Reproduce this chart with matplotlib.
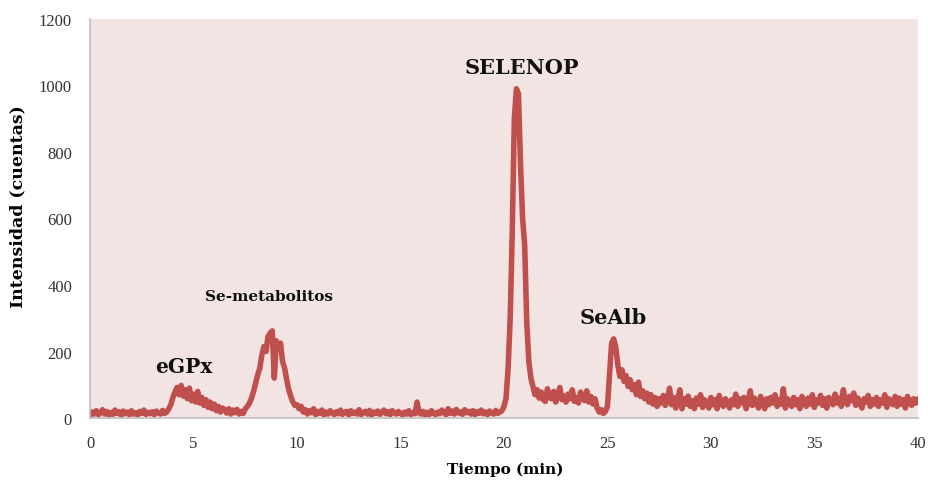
import matplotlib.pyplot as plt

# chromatogram, one row per minute (0.1 min steps)
tiempo = [
    0.0, 0.1, 0.2, 0.3, 0.4, 0.5, 0.6, 0.7, 0.8, 0.9,
    1.0, 1.1, 1.2, 1.3, 1.4, 1.5, 1.6, 1.7, 1.8, 1.9,
    2.0, 2.1, 2.2, 2.3, 2.4, 2.5, 2.6, 2.7, 2.8, 2.9,
    3.0, 3.1, 3.2, 3.3, 3.4, 3.5, 3.6, 3.7, 3.8, 3.9,
    4.0, 4.1, 4.2, 4.3, 4.4, 4.5, 4.6, 4.7, 4.8, 4.9,
    5.0, 5.1, 5.2, 5.3, 5.4, 5.5, 5.6, 5.7, 5.8, 5.9,
    6.0, 6.1, 6.2, 6.3, 6.4, 6.5, 6.6, 6.7, 6.8, 6.9,
    7.0, 7.1, 7.2, 7.3, 7.4, 7.5, 7.6, 7.7, 7.8, 7.9,
    8.0, 8.1, 8.2, 8.3, 8.4, 8.5, 8.6, 8.7, 8.8, 8.9,
    9.0, 9.1, 9.2, 9.3, 9.4, 9.5, 9.6, 9.7, 9.8, 9.9,
    10.0, 10.1, 10.2, 10.3, 10.4, 10.5, 10.6, 10.7, 10.8, 10.9,
    11.0, 11.1, 11.2, 11.3, 11.4, 11.5, 11.6, 11.7, 11.8, 11.9,
    12.0, 12.1, 12.2, 12.3, 12.4, 12.5, 12.6, 12.7, 12.8, 12.9,
    13.0, 13.1, 13.2, 13.3, 13.4, 13.5, 13.6, 13.7, 13.8, 13.9,
    14.0, 14.1, 14.2, 14.3, 14.4, 14.5, 14.6, 14.7, 14.8, 14.9,
    15.0, 15.1, 15.2, 15.3, 15.4, 15.5, 15.6, 15.7, 15.8, 15.9,
    16.0, 16.1, 16.2, 16.3, 16.4, 16.5, 16.6, 16.7, 16.8, 16.9,
    17.0, 17.1, 17.2, 17.3, 17.4, 17.5, 17.6, 17.7, 17.8, 17.9,
    18.0, 18.1, 18.2, 18.3, 18.4, 18.5, 18.6, 18.7, 18.8, 18.9,
    19.0, 19.1, 19.2, 19.3, 19.4, 19.5, 19.6, 19.7, 19.8, 19.9,
    20.0, 20.1, 20.2, 20.3, 20.4, 20.5, 20.6, 20.7, 20.8, 20.9,
    21.0, 21.1, 21.2, 21.3, 21.4, 21.5, 21.6, 21.7, 21.8, 21.9,
    22.0, 22.1, 22.2, 22.3, 22.4, 22.5, 22.6, 22.7, 22.8, 22.9,
    23.0, 23.1, 23.2, 23.3, 23.4, 23.5, 23.6, 23.7, 23.8, 23.9,
    24.0, 24.1, 24.2, 24.3, 24.4, 24.5, 24.6, 24.7, 24.8, 24.9,
    25.0, 25.1, 25.2, 25.3, 25.4, 25.5, 25.6, 25.7, 25.8, 25.9,
    26.0, 26.1, 26.2, 26.3, 26.4, 26.5, 26.6, 26.7, 26.8, 26.9,
    27.0, 27.1, 27.2, 27.3, 27.4, 27.5, 27.6, 27.7, 27.8, 27.9,
    28.0, 28.1, 28.2, 28.3, 28.4, 28.5, 28.6, 28.7, 28.8, 28.9,
    29.0, 29.1, 29.2, 29.3, 29.4, 29.5, 29.6, 29.7, 29.8, 29.9,
    30.0, 30.1, 30.2, 30.3, 30.4, 30.5, 30.6, 30.7, 30.8, 30.9,
    31.0, 31.1, 31.2, 31.3, 31.4, 31.5, 31.6, 31.7, 31.8, 31.9,
    32.0, 32.1, 32.2, 32.3, 32.4, 32.5, 32.6, 32.7, 32.8, 32.9,
    33.0, 33.1, 33.2, 33.3, 33.4, 33.5, 33.6, 33.7, 33.8, 33.9,
    34.0, 34.1, 34.2, 34.3, 34.4, 34.5, 34.6, 34.7, 34.8, 34.9,
    35.0, 35.1, 35.2, 35.3, 35.4, 35.5, 35.6, 35.7, 35.8, 35.9,
    36.0, 36.1, 36.2, 36.3, 36.4, 36.5, 36.6, 36.7, 36.8, 36.9,
    37.0, 37.1, 37.2, 37.3, 37.4, 37.5, 37.6, 37.7, 37.8, 37.9,
    38.0, 38.1, 38.2, 38.3, 38.4, 38.5, 38.6, 38.7, 38.8, 38.9,
    39.0, 39.1, 39.2, 39.3, 39.4, 39.5, 39.6, 39.7, 39.8, 39.9,
    40.0,
]
intensidad = [
    8, 18, 12, 22, 10, 16, 25, 12, 20, 9,
    17, 11, 24, 14, 19, 8, 21, 13, 18, 10,
    22, 12, 16, 9, 20, 14, 24, 11, 17, 13,
    19, 10, 21, 15, 12, 23, 14, 18, 28, 40,
    62, 78, 92, 70, 98, 66, 85, 58, 90, 52,
    72, 48, 80, 45, 62, 38, 55, 32, 48, 28,
    42, 22, 35, 18, 30, 25, 15, 28, 12, 24,
    16, 26, 12, 20, 14, 28, 35, 45, 60, 80,
    105, 130, 150, 190, 215, 200, 245, 255, 262, 120,
    232, 210, 225, 170, 150, 115, 85, 65, 48, 38,
    40, 28, 35, 18, 25, 12, 22, 16, 28, 10,
    20, 14, 24, 9, 18, 12, 22, 15, 10, 19,
    13, 24, 11, 17, 20, 9, 22, 14, 18, 12,
    25, 10, 16, 20, 12, 23, 9, 18, 14, 21,
    11, 17, 24, 13, 19, 10, 22, 15, 12, 20,
    14, 9, 18, 12, 22, 10, 16, 13, 48, 15,
    12, 20, 9, 17, 11, 22, 14, 10, 18, 13,
    24, 16, 10, 28, 14, 21, 12, 26, 15, 18,
    11, 25, 16, 20, 12, 22, 10, 19, 14, 24,
    13, 18, 10, 21, 15, 12, 23, 14, 18, 22,
    35, 60, 150, 300, 560, 900, 990, 975, 760, 600,
    520, 290, 170, 120, 95, 70, 85, 60, 78, 55,
    50, 88, 62, 58, 80, 48, 70, 92, 55, 66,
    48, 72, 58, 85, 50, 62, 45, 78, 60, 52,
    82, 48, 65, 42, 58, 30, 18, 25, 14, 20,
    35, 130, 225, 238, 215, 160, 125, 145, 110, 128,
    95, 115, 85, 100, 70, 108, 65, 82, 58, 75,
    48, 70, 42, 62, 35, 58, 45, 68, 38, 55,
    90, 40, 62, 30, 55, 85, 28, 58, 42, 66,
    35, 52, 28, 60, 42, 70, 32, 55, 45, 30,
    62, 40, 55, 28, 68, 45, 35, 58, 48, 30,
    55, 40, 72, 35, 58, 45, 62, 28, 50, 82,
    38, 60, 45, 30, 65, 50, 28, 58, 40, 62,
    45, 70, 35, 55, 42, 88, 30, 58, 48, 35,
    62, 40, 55, 28, 65, 48, 35, 60, 42, 70,
    32, 55, 45, 68, 38, 58, 30, 62, 50, 40,
    72, 45, 60, 35, 85, 50, 40, 65, 52, 75,
    38, 60, 45, 30, 58, 48, 68, 35, 55, 42,
    62, 35, 55, 45, 70, 32, 58, 48, 40, 65,
    35, 60, 42, 55, 30, 65, 48, 38, 58, 45,
    55,
]

etiquetas = ["eGPx", "Se-metabolitos", "SELENOP", "SeAlb"]
etiqueta_x = [4.54, 8.65, 20.87, 25.3]
etiqueta_y = [156, 367, 1056, 304]
etiqueta_tam = [14.5, 11, 15, 15]

line_color = "#C0504D"
bg_color = "#F3E4E4"
axis_color = "#BFBFBF"
label_font = ["DejaVu Serif"]

plt.rcParams["font.family"] = ["Liberation Serif", "DejaVu Serif"]

fig = plt.figure(figsize=(9.29, 4.85), dpi=100)
ax = fig.add_axes([0.097, 0.136, 0.891, 0.823])
ax.set_facecolor(bg_color)

ax.plot(tiempo, intensidad, color=line_color, lw=4.0, solid_joinstyle="round")

for txt, x, y, fs in zip(etiquetas, etiqueta_x, etiqueta_y, etiqueta_tam):
    ax.text(x, y, txt, ha="center", va="center", fontsize=fs,
            fontweight="bold", color="#111111", family=label_font)

ax.set_xlim(0, 40)
ax.set_ylim(0, 1200)
ax.set_xticks([0, 5, 10, 15, 20, 25, 30, 35, 40])
ax.set_yticks([0, 200, 400, 600, 800, 1000, 1200])
ax.tick_params(length=0, labelsize=12, colors="#333333")
ax.tick_params(axis="y", pad=13)
ax.tick_params(axis="x", pad=12)

for side in ["top", "right"]:
    ax.spines[side].set_visible(False)
for side in ["left", "bottom"]:
    ax.spines[side].set_color(axis_color)
    ax.spines[side].set_linewidth(1.2)

ax.set_xlabel("Tiempo (min)", fontsize=11, fontweight="bold", family=label_font)
ax.set_ylabel("Intensidad (cuentas)", fontsize=12.5, fontweight="bold", family=label_font)
ax.xaxis.set_label_coords(0.502, -0.108)
ax.yaxis.set_label_coords(-0.077, 0.531)

fig.savefig("out.png", dpi=100)
